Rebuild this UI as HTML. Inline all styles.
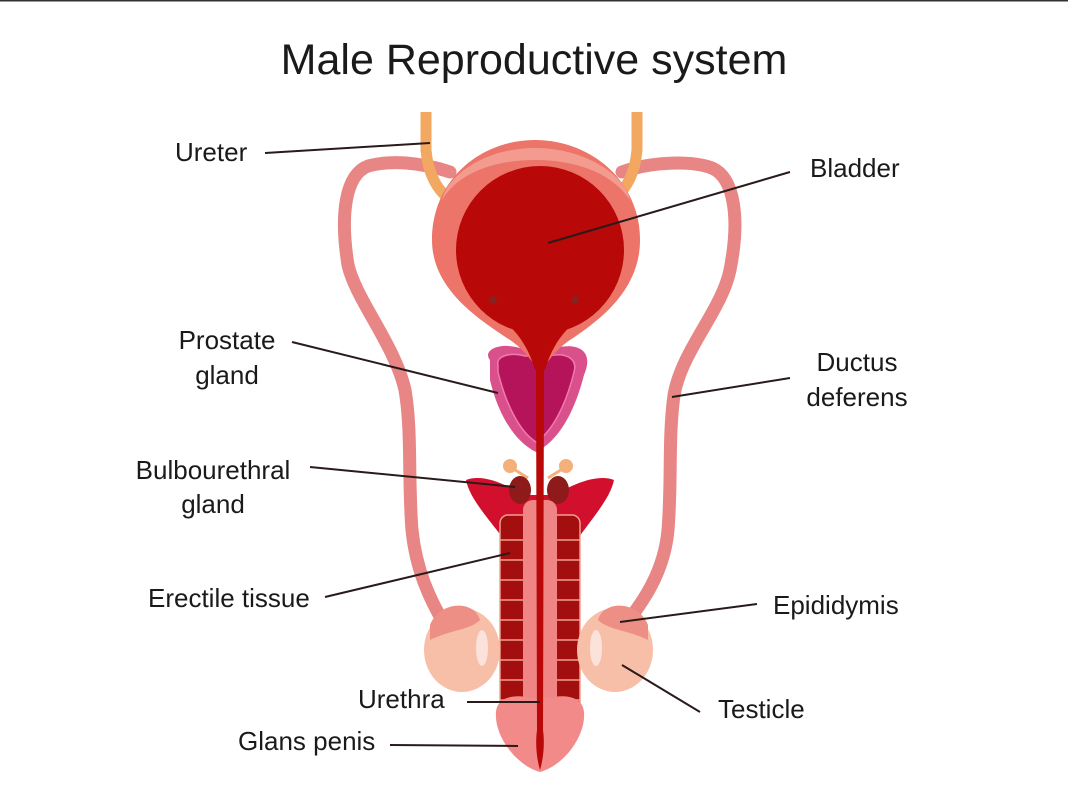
<!DOCTYPE html>
<html><head><meta charset="utf-8"><style>
html,body{margin:0;padding:0;background:#fff;}
svg{display:block;}
text{font-family:"Liberation Sans",sans-serif;fill:#1a1a1a;}
</style></head><body>
<svg width="1068" height="801" viewBox="0 0 1068 801" xmlns="http://www.w3.org/2000/svg">
<rect width="1068" height="801" fill="#fff"/>
<line x1="0" y1="0.5" x2="1068" y2="0.5" stroke="#333" stroke-width="2"/>
<text x="534" y="74" font-size="43" text-anchor="middle">Male Reproductive system</text>

<!-- ducts deferens -->
<path d="M450 172 C420 162 390 160 368 166 C345 175 340 215 348 265 C356 300 395 345 405 390 C412 430 408 480 412 530 C416 570 430 600 445 625" fill="none" stroke="#e88585" stroke-width="13" stroke-linecap="round"/>
<path d="M622 172 C650 162 690 160 712 168 C735 178 740 220 730 270 C722 310 682 350 674 395 C668 440 672 480 668 530 C664 575 640 605 625 625" fill="none" stroke="#e88585" stroke-width="13" stroke-linecap="round"/>

<!-- ureters -->
<path d="M426 112 L426 150 C428 175 438 190 448 198" fill="none" stroke="#f2a860" stroke-width="11"/>
<path d="M637 112 L637 150 C635 175 625 190 615 198" fill="none" stroke="#f2a860" stroke-width="11"/>

<!-- prostate -->
<path d="M490 360 C482 350 500 342 520 348 L555 348 C580 342 594 352 584 375 C575 410 560 440 536 452 C512 440 497 410 490 380 Z" fill="#d9508a"/>
<path d="M498 365 C496 356 510 352 525 356 L548 356 C565 352 578 358 574 372 C566 405 552 432 536 442 C520 432 506 405 498 372 Z" fill="#b5145a" stroke="#f07ab0" stroke-width="1.5"/>

<!-- bladder -->
<path d="M535 140 C590 140 640 180 640 240 C640 290 600 320 570 340 C555 350 548 362 540 372 C532 362 525 350 510 340 C480 320 432 290 432 240 C432 180 480 140 535 140 Z" fill="#ec7468"/>
<path d="M535 148 C585 148 625 175 630 200 C610 170 570 160 535 160 C500 160 460 170 442 200 C448 175 485 148 535 148 Z" fill="#f49b90"/>
<circle cx="540" cy="250" r="84" fill="#b80808"/>
<path d="M482 305 C505 320 525 335 535 370 L545 370 C555 335 575 320 598 305 Z" fill="#b80808"/>
<circle cx="493" cy="300" r="4" fill="#8a2020"/>
<circle cx="575" cy="300" r="4" fill="#8a2020"/>

<!-- bulbourethral small -->
<circle cx="510" cy="466" r="7" fill="#f4b07a"/><circle cx="566" cy="466" r="7" fill="#f4b07a"/>
<path d="M512 468 L528 478 M564 468 L548 478" stroke="#f4b07a" stroke-width="3"/>

<!-- erectile Y -->
<path d="M466 480 C480 474 505 482 520 495 L556 495 C575 482 600 474 614 480 C610 500 590 520 570 550 L512 550 C490 520 470 500 466 480 Z" fill="#d2102e"/>
<ellipse cx="520" cy="490" rx="11" ry="14" fill="#8e1a1a"/>
<ellipse cx="558" cy="490" rx="11" ry="14" fill="#8e1a1a"/>
<rect x="500" y="515" width="30" height="200" rx="8" fill="#a30e0e" stroke="#f0a090" stroke-width="1.5"/>
<rect x="550" y="515" width="30" height="200" rx="8" fill="#a30e0e" stroke="#f0a090" stroke-width="1.5"/>
<g stroke="#f0a090" stroke-width="1.5">
<path d="M500 540h30M500 560h30M500 580h30M500 600h30M500 620h30M500 640h30M500 660h30M500 680h30M500 700h30"/>
<path d="M550 540h30M550 560h30M550 580h30M550 600h30M550 620h30M550 640h30M550 660h30M550 680h30M550 700h30"/>
</g>
<rect x="523" y="500" width="34" height="220" rx="10" fill="#f08585"/>

<!-- glans -->
<path d="M540 700 C525 695 498 692 496 712 C494 735 515 765 540 772 C565 765 586 735 584 712 C582 692 555 695 540 700 Z" fill="#f28a8a"/>
<!-- urethra -->
<path d="M536 365 L544 365 L543 730 C545 745 543 760 540 770 C537 760 535 745 537 730 Z" fill="#b80808"/>

<!-- testicles -->
<ellipse cx="462" cy="650" rx="38" ry="42" fill="#f8bfa8"/>
<path d="M430 625 C440 600 475 600 480 620 C470 630 450 630 430 640 Z" fill="#ee8f85"/>
<ellipse cx="482" cy="648" rx="6" ry="18" fill="#fbe3dc"/>
<ellipse cx="615" cy="650" rx="38" ry="42" fill="#f8bfa8"/>
<path d="M648 625 C638 600 603 600 598 620 C608 630 628 630 648 640 Z" fill="#ee8f85"/>
<ellipse cx="596" cy="648" rx="6" ry="18" fill="#fbe3dc"/>

<!-- leader lines -->
<g stroke="#2a1a1a" stroke-width="2">
<line x1="265" y1="153" x2="430" y2="143"/>
<line x1="548" y1="243" x2="790" y2="172"/>
<line x1="292" y1="342" x2="498" y2="393"/>
<line x1="790" y1="378" x2="672" y2="397"/>
<line x1="310" y1="467" x2="515" y2="487"/>
<line x1="325" y1="597" x2="510" y2="553"/>
<line x1="757" y1="604" x2="620" y2="622"/>
<line x1="700" y1="712" x2="622" y2="665"/>
<line x1="467" y1="702" x2="540" y2="702"/>
<line x1="390" y1="745" x2="518" y2="746"/>
</g>

<g font-size="26">
<text x="175" y="161">Ureter</text>
<text x="810" y="177">Bladder</text>
<text x="227" y="349" text-anchor="middle">Prostate</text>
<text x="227" y="384" text-anchor="middle">gland</text>
<text x="857" y="371" text-anchor="middle">Ductus</text>
<text x="857" y="406" text-anchor="middle">deferens</text>
<text x="213" y="479" text-anchor="middle">Bulbourethral</text>
<text x="213" y="513" text-anchor="middle">gland</text>
<text x="148" y="607">Erectile tissue</text>
<text x="773" y="614">Epididymis</text>
<text x="718" y="718">Testicle</text>
<text x="358" y="708">Urethra</text>
<text x="238" y="750">Glans penis</text>
</g>
</svg>
</body></html>
